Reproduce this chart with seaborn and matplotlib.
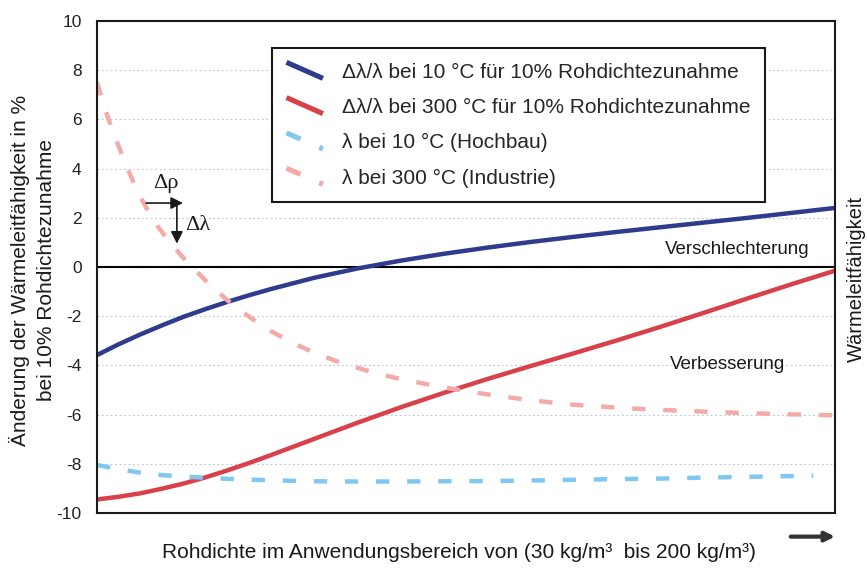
import numpy as np
import pandas as pd
import matplotlib
matplotlib.use("Agg")
import matplotlib.pyplot as plt
import seaborn as sns
from matplotlib.lines import Line2D
from matplotlib.legend_handler import HandlerLine2D

# Rohdichte (kg/m3) grid and read-off values in %
rho = [30, 35, 40, 45, 50, 55, 60, 65, 70, 80, 90, 100, 110, 120, 130, 140,
       150, 160, 170, 180, 190, 200]
dl_10 = [-3.58, -3.14, -2.74, -2.37, -2.02, -1.71, -1.42, -1.15, -0.9, -0.44,
         -0.06, 0.26, 0.54, 0.79, 1.02, 1.23, 1.43, 1.62, 1.81, 2.0, 2.2, 2.4]
dl_300 = [-9.45, -9.34, -9.2, -9.01, -8.8, -8.55, -8.27, -7.97, -7.65, -6.99,
          -6.33, -5.7, -5.11, -4.55, -4.02, -3.5, -2.97, -2.42, -1.85, -1.27,
          -0.7, -0.15]

rho_hb = [30, 35, 40, 45, 50, 60, 70, 80, 90, 100, 110, 120, 130, 140, 150,
          160, 170, 180, 190, 195]
lam_10 = [-8.05, -8.22, -8.36, -8.46, -8.52, -8.61, -8.67, -8.71, -8.72, -8.72,
          -8.71, -8.7, -8.68, -8.65, -8.62, -8.6, -8.56, -8.53, -8.5, -8.48]

rho_ind = [30, 32, 34, 36, 38, 40, 42, 44, 46, 48, 50, 55, 60, 65, 70, 75, 80,
           85, 90, 95, 100, 110, 120, 130, 140, 150, 160, 170, 180, 190, 200]
lam_300 = [7.5, 6.35, 5.35, 4.45, 3.6, 2.85, 2.2, 1.65, 1.18, 0.75, 0.35,
           -0.55, -1.35, -2.02, -2.6, -3.08, -3.48, -3.82, -4.1, -4.35, -4.56,
           -4.9, -5.18, -5.42, -5.6, -5.72, -5.81, -5.88, -5.94, -5.99, -6.03]

labels = ["\u0394\u03bb/\u03bb bei 10 \u00b0C f\u00fcr 10% Rohdichtezunahme",
          "\u0394\u03bb/\u03bb bei 300 \u00b0C f\u00fcr 10% Rohdichtezunahme",
          "\u03bb bei 10 \u00b0C (Hochbau)",
          "\u03bb bei 300 \u00b0C (Industrie)"]
yticks = list(range(-10, 11, 2))


class SlopedHandler(HandlerLine2D):
    # legend handles drawn as short sloped strokes
    def create_artists(self, legend, orig_handle, xdescent, ydescent,
                       width, height, fontsize, trans):
        x0, x1 = -xdescent, -xdescent + width
        y0, y1 = -ydescent + height * 1.05, -ydescent - height * 0.05
        line = Line2D([x0, x1], [y0, y1])
        self.update_prop(line, orig_handle, legend)
        line.set_linewidth(orig_handle.get_linewidth() * 1.15)
        line.set_transform(trans)
        return [line]


sns.set_style("white")
plt.rcParams["font.family"] = ["Liberation Sans", "DejaVu Sans"]
plt.rcParams["axes.unicode_minus"] = False

fig = plt.figure(figsize=(8.67, 5.71), dpi=100)
ax = fig.add_axes([97 / 867, 58 / 571, 738 / 867, 492 / 571])

# faint dotted grid
for yv in yticks:
    ax.axhline(yv, color="#b9c6d3", lw=0.8, ls=(0, (1.5, 2.5)), zorder=0)
ax.axhline(0, color="black", lw=1.5, zorder=1)

sns.lineplot(x=rho, y=dl_10, ax=ax, color="#2f3b8c", lw=3.2, label=labels[0],
             legend=False, solid_capstyle="butt")
sns.lineplot(x=rho, y=dl_300, ax=ax, color="#d9414a", lw=3.2, label=labels[1],
             legend=False, solid_capstyle="butt")
sns.lineplot(x=rho_hb, y=lam_10, ax=ax, color="#80c8f2", lw=3.2, label=labels[2],
             legend=False, linestyle=(0, (3.0, 4.0)), dash_capstyle="butt")
sns.lineplot(x=rho_ind, y=lam_300, ax=ax, color="#f5aaaa", lw=3.2, label=labels[3],
             legend=False, linestyle=(0, (3.0, 4.0)), dash_capstyle="butt")

ax.set_xlim(30, 200)
ax.set_ylim(-10, 10)
ax.set_xticks([])
ax.set_yticks(yticks)
ax.set_yticklabels([str(v) for v in yticks])
ax.tick_params(axis="y", length=0, pad=11, labelsize=12.5, labelcolor="#222222")
ax.set_xlabel("")
ax.set_ylabel("")
for sp in ax.spines.values():
    sp.set_color("#1a1a1a")
    sp.set_linewidth(1.5)

leg = ax.legend(loc="upper left", bbox_to_anchor=(0.237, 0.945), borderaxespad=0,
                fontsize=15, frameon=True, fancybox=False, shadow=False,
                handlelength=1.75, handletextpad=0.9, labelspacing=0.78,
                borderpad=0.7, handler_map={Line2D: SlopedHandler()})
leg.get_frame().set_edgecolor("#1a1a1a")
leg.get_frame().set_linewidth(1.5)
leg.get_frame().set_alpha(1)

# delta annotations
ax.annotate("", xy=(49.8, 2.6), xytext=(41.3, 2.6),
            arrowprops=dict(arrowstyle="-|>", color="#1a1a1a", lw=1.2,
                            mutation_scale=18, shrinkA=0, shrinkB=0))
ax.annotate("", xy=(48.4, 0.95), xytext=(48.4, 2.6),
            arrowprops=dict(arrowstyle="-|>", color="#1a1a1a", lw=1.2,
                            mutation_scale=18, shrinkA=0, shrinkB=0))
ax.text(45.8, 3.0, "\u0394\u03c1", fontsize=16, ha="center", va="bottom",
        family=["Liberation Serif", "DejaVu Serif"], color="#1a1a1a")
ax.text(50.3, 1.67, "\u0394\u03bb", fontsize=16, ha="left", va="center",
        family=["Liberation Serif", "DejaVu Serif"], color="#1a1a1a")

ax.text(177.5, 0.7, "Verschlechterung", fontsize=13.5, ha="center", va="center",
        color="#1a1a1a")
ax.text(175.2, -3.95, "Verbesserung", fontsize=13.5, ha="center", va="center",
        color="#1a1a1a")

# axis titles
fig.text(19 / 867, 1 - 270 / 571, "\u00c4nderung der W\u00e4rmeleitf\u00e4higkeit in %",
         rotation=90, ha="center", va="center", fontsize=15, color="#1a1a1a")
fig.text(47 / 867, 1 - 270 / 571, "bei 10% Rohdichtezunahme",
         rotation=90, ha="center", va="center", fontsize=15, color="#1a1a1a")
fig.text(866 / 867, 1 - 279 / 571, "W\u00e4rmeleitf\u00e4higkeit",
         rotation=90, ha="right", va="center", fontsize=14.5, color="#1a1a1a")
fig.text(459 / 867, 1 - 553 / 571,
         "Rohdichte im Anwendungsbereich von (30 kg/m\u00b3  bis 200 kg/m\u00b3)",
         ha="center", va="center", fontsize=15, color="#1a1a1a")

# x direction arrow below the axis
ax.annotate("", xy=(1.0, -0.048), xytext=(0.94, -0.048), xycoords="axes fraction",
            arrowprops=dict(arrowstyle="-|>", color="#333333", lw=3,
                            mutation_scale=14, shrinkA=0, shrinkB=0))

fig.savefig("out.png", dpi=100)
